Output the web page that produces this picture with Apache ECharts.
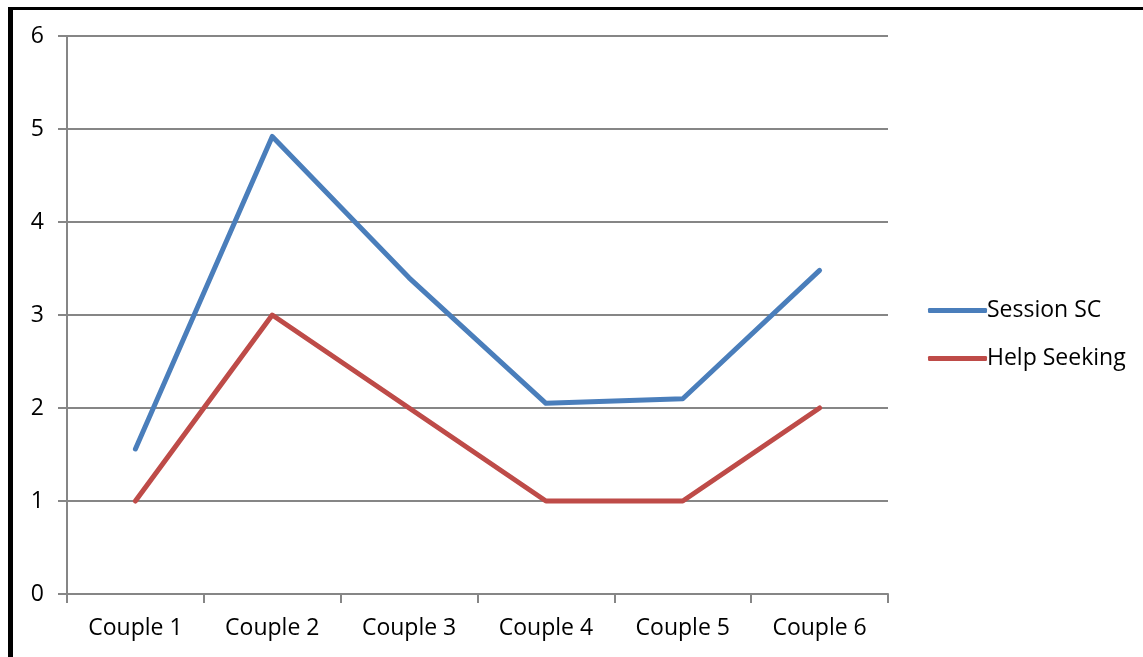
<!DOCTYPE html>
<html>
<head>
<meta charset="utf-8">
<script src="https://cdn.jsdelivr.net/npm/echarts@6/dist/echarts.min.js"></script>
<style>
html,body{margin:0;padding:0;background:#fff;}
#c{position:absolute;left:0;top:0;width:1143px;height:657px;}
#bt{position:absolute;left:8px;top:7px;width:1135px;height:3px;background:#000;}
#bl{position:absolute;left:8px;top:7px;width:5px;height:650px;background:#000;}
</style>
</head>
<body>
<div id="c"></div>
<div id="bt"></div>
<div id="bl"></div>
<script>
const categories = ['Couple 1','Couple 2','Couple 3','Couple 4','Couple 5','Couple 6'];
const sessionSC = [1.56, 4.92, 3.40, 2.05, 2.10, 3.48];
const helpSeeking = [1, 3, 2, 1, 1, 2];
const seriesNames = ['Session SC','Help Seeking'];
const colors = ['#4a7ebb','#be4b48'];

const chart = echarts.init(document.getElementById('c'));
const font = 'Open Sans';
const fs = 23;
chart.setOption({
  animation:false,
  grid:{left:67,right:255,top:36,bottom:63,containLabel:false},
  legend:{
    orient:'vertical',left:928,top:299,padding:0,itemWidth:59,itemHeight:5,itemGap:25,
    icon:'roundRect',
    textStyle:{fontFamily:font,fontSize:fs,color:'#000',padding:[0,0,0,-5]},
    data:seriesNames
  },
  xAxis:{
    type:'category',data:categories,boundaryGap:true,
    axisLine:{lineStyle:{color:'#868686',width:2}},
    axisTick:{show:true,length:9,alignWithLabel:false,lineStyle:{color:'#868686',width:2}},
    axisLabel:{fontFamily:font,fontSize:fs,color:'#000',margin:23}
  },
  yAxis:{
    type:'value',min:0,max:6,interval:1,
    axisLine:{show:true,lineStyle:{color:'#868686',width:2}},
    axisTick:{show:true,length:9,lineStyle:{color:'#868686',width:2}},
    splitLine:{lineStyle:{color:'#868686',width:2}},
    axisLabel:{fontFamily:font,fontSize:fs,color:'#000',margin:23}
  },
  series:[
    {name:seriesNames[0],type:'line',data:sessionSC,showSymbol:false,symbol:'none',
     lineStyle:{color:colors[0],width:5,cap:'round',join:'round'},itemStyle:{color:colors[0]}},
    {name:seriesNames[1],type:'line',data:helpSeeking,showSymbol:false,symbol:'none',
     lineStyle:{color:colors[1],width:5,cap:'round',join:'round'},itemStyle:{color:colors[1]}}
  ]
});
</script>
</body>
</html>
